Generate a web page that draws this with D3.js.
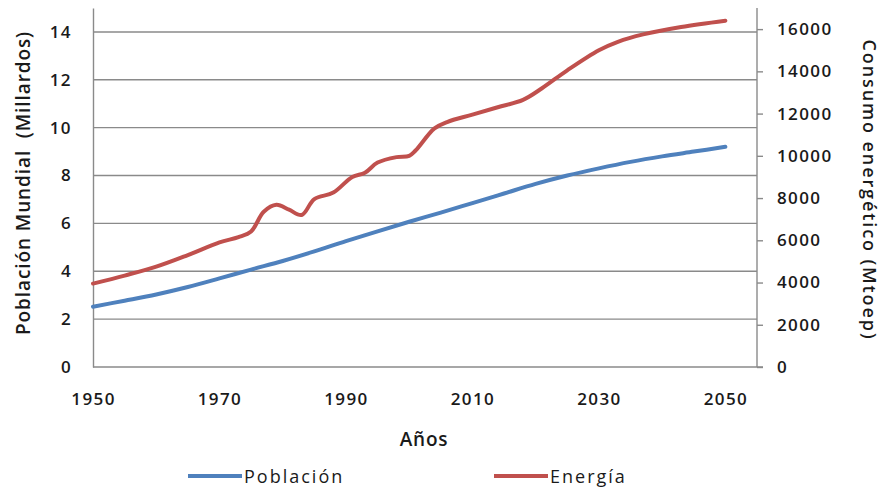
<!DOCTYPE html>
<html>
<head>
<meta charset="utf-8">
<script src="https://cdn.jsdelivr.net/npm/d3@7"></script>
<style>
  html, body { margin: 0; padding: 0; background: #ffffff; }
  svg { display: block; }
  text { font-family: "Open Sans", "Noto Sans", sans-serif; fill: #1a1a1a; }
</style>
</head>
<body>
<svg id="chart" width="884" height="488"></svg>
<script>
// World population (billions), by year
const popYears = [1950, 1955, 1960, 1965, 1970, 1975, 1980, 1985, 1990, 1995, 2000,
                  2005, 2010, 2015, 2020, 2025, 2030, 2035, 2040, 2045, 2050];
const popValues = [2.52, 2.77, 3.03, 3.34, 3.70, 4.07, 4.43, 4.83, 5.26, 5.67, 6.07,
                   6.45, 6.85, 7.25, 7.65, 8.00, 8.30, 8.57, 8.80, 9.00, 9.20];

// Primary energy consumption (Mtoe), by year
const energyYears = [1950, 1955, 1960, 1965, 1970, 1973, 1975, 1977, 1979, 1981, 1983,
                     1985, 1988, 1991, 1993, 1995, 1998, 2000, 2001, 2004, 2006, 2010,
                     2014, 2018, 2021, 2025, 2030, 2033, 2037, 2043, 2050];
const energyValues = [3950, 4330, 4750, 5300, 5900, 6150, 6420, 7350, 7680, 7450, 7200,
                      7950, 8260, 9000, 9200, 9680, 9940, 10000, 10250, 11300, 11600, 11950,
                      12300, 12650, 13200, 14050, 15000, 15400, 15750, 16100, 16400];

// Axis ticks
const xTicks = [1950, 1970, 1990, 2010, 2030, 2050];
const leftTicks = [0, 2, 4, 6, 8, 10, 12, 14];
const rightTicks = [0, 2000, 4000, 6000, 8000, 10000, 12000, 14000, 16000];

const seriesNames = ["Población", "Energía"];
const seriesColors = ["#4f81bd", "#c0504d"];

const svg = d3.select("#chart");
const plot = { left: 93, right: 757, top: 8, bottom: 367 };

const x = d3.scaleLinear().domain([1950, 2055]).range([plot.left, plot.right]);
const yLeft = d3.scaleLinear().domain([0, 15]).range([plot.bottom, plot.top]);
const yRight = d3.scaleLinear().domain([0, 17000]).range([plot.bottom, plot.top]);

const gridColor = "#8a8a8a";
const tickFont = { size: 17, weight: 600, spacing: 1.4, color: "#222222" };

function styleTicks(g) {
  g.selectAll("text")
    .style("font-family", "'Open Sans', sans-serif")
    .attr("font-size", tickFont.size)
    .attr("font-weight", tickFont.weight)
    .attr("letter-spacing", tickFont.spacing)
    .attr("fill", tickFont.color);
}

// Horizontal gridlines from the left axis
svg.append("g")
  .selectAll("line")
  .data(leftTicks.filter(d => d > 0))
  .join("line")
  .attr("x1", plot.left).attr("x2", plot.right)
  .attr("y1", d => yLeft(d)).attr("y2", d => yLeft(d))
  .attr("stroke", gridColor).attr("stroke-width", 1.4);

// Left axis
const leftAxis = svg.append("g")
  .attr("transform", `translate(${plot.left},0)`)
  .call(d3.axisLeft(yLeft).tickValues(leftTicks).tickSize(0).tickPadding(21));
leftAxis.select(".domain").attr("stroke", gridColor).attr("stroke-width", 1.4);
styleTicks(leftAxis);

// Right axis
const rightAxis = svg.append("g")
  .attr("transform", `translate(${plot.right},0)`)
  .call(d3.axisRight(yRight).tickValues(rightTicks).tickFormat(d3.format("d"))
    .tickSize(6).tickPadding(14));
rightAxis.select(".domain").attr("stroke", gridColor).attr("stroke-width", 1.4)
  .attr("d", `M0,${plot.top}V${plot.bottom}`);
rightAxis.selectAll(".tick line").attr("stroke", gridColor).attr("stroke-width", 1.4);
styleTicks(rightAxis);

// Bottom axis (labels only, baseline drawn across the plot)
const bottomAxis = svg.append("g")
  .attr("transform", `translate(0,${plot.bottom})`)
  .call(d3.axisBottom(x).tickValues(xTicks).tickFormat(d3.format("d")).tickSize(0).tickPadding(26));
bottomAxis.select(".domain").attr("stroke", gridColor).attr("stroke-width", 1.4)
  .attr("d", `M${plot.left},0H${plot.right + 6}`);
styleTicks(bottomAxis);

// Series lines
const popLine = d3.line()
  .x((d, i) => x(popYears[i]))
  .y(d => yLeft(d))
  .curve(d3.curveCatmullRom.alpha(0.5));
const energyLine = d3.line()
  .x((d, i) => x(energyYears[i]))
  .y(d => yRight(d))
  .curve(d3.curveCatmullRom.alpha(0.5));

svg.append("path")
  .attr("d", popLine(popValues))
  .attr("fill", "none").attr("stroke", seriesColors[0])
  .attr("stroke-width", 4).attr("stroke-linecap", "round").attr("stroke-linejoin", "round");
svg.append("path")
  .attr("d", energyLine(energyValues))
  .attr("fill", "none").attr("stroke", seriesColors[1])
  .attr("stroke-width", 4).attr("stroke-linecap", "round").attr("stroke-linejoin", "round");

// Axis titles
svg.append("text")
  .attr("transform", "translate(30,183) rotate(-90)")
  .attr("text-anchor", "middle")
  .attr("font-size", 19).attr("font-weight", 600).attr("letter-spacing", 0.9)
  .attr("fill", "#111111")
  .attr("xml:space", "preserve")
  .text("Población Mundial  (Millardos)");

svg.append("text")
  .attr("transform", "translate(863,190) rotate(90)")
  .attr("text-anchor", "middle")
  .attr("font-size", 18).attr("font-weight", 600).attr("letter-spacing", 1.9)
  .attr("fill", "#111111")
  .text("Consumo energético (Mtoep)");

svg.append("text")
  .attr("x", 424).attr("y", 446)
  .attr("text-anchor", "middle")
  .attr("font-size", 19).attr("font-weight", 600).attr("letter-spacing", 0.8)
  .attr("fill", "#111111")
  .text("Años");

// Legend
const legendItems = [
  { name: seriesNames[0], color: seriesColors[0], x: 188 },
  { name: seriesNames[1], color: seriesColors[1], x: 494 }
];
const legend = svg.append("g");
const item = legend.selectAll("g").data(legendItems).join("g")
  .attr("transform", d => `translate(${d.x},476)`);
item.append("line")
  .attr("x1", 0).attr("x2", 54).attr("y1", 0).attr("y2", 0)
  .attr("stroke", d => d.color).attr("stroke-width", 4);
item.append("text")
  .attr("x", 56).attr("y", 6.5)
  .attr("font-size", 18).attr("letter-spacing", 2)
  .attr("fill", "#1a1a1a")
  .text(d => d.name);
</script>
</body>
</html>
